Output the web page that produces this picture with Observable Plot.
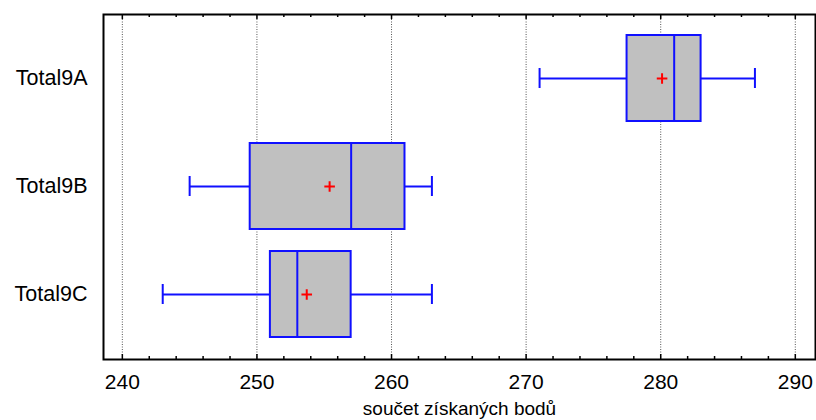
<!DOCTYPE html>
<html>
<head>
<meta charset="utf-8">
<script src="https://cdn.jsdelivr.net/npm/d3@7"></script>
<script src="https://cdn.jsdelivr.net/npm/@observablehq/plot@0.6"></script>
<style>
  html, body { margin: 0; padding: 0; background: white; }
</style>
</head>
<body>
<div id="chart"></div>
<script>
const names = ["Total9A", "Total9B", "Total9C"];
const mins = [271, 245, 243];
const q1s = [277.5, 249.5, 251];
const medians = [281, 257, 253];
const q3s = [283, 261, 257];
const maxs = [287, 263, 263];
const means = [280.1, 255.4, 253.7];
const majorTicks = [240, 250, 260, 270, 280, 290];
const minorTicks = [242, 244, 246, 248, 252, 254, 256, 258, 262, 264, 266, 268, 272, 274, 276, 278, 282, 284, 286, 288];
const xLabel = "součet získaných bodů";

const data = names.map((name, i) => ({
  name, lo: mins[i], q1: q1s[i], med: medians[i], q3: q3s[i], hi: maxs[i], mean: means[i]
}));

const blue = "#1010ff";
const plotH = 345;

const chart = Plot.plot({
  width: 816,
  height: 420,
  marginTop: 14,
  marginBottom: 61,
  marginLeft: 103,
  marginRight: 1,
  style: { fontFamily: "'Liberation Sans', Arial, sans-serif", background: "white", color: "black" },
  x: { domain: [238.6, 291.5] },
  y: { domain: names, paddingInner: 0.2, paddingOuter: 0.19 },
  marks: [
    Plot.ruleX(majorTicks, { stroke: "#555", strokeDasharray: "1,1.5", strokeWidth: 1 }),
    Plot.ruleY(data, { y: "name", x1: "lo", x2: "q1", stroke: blue, strokeWidth: 2 }),
    Plot.ruleY(data, { y: "name", x1: "q3", x2: "hi", stroke: blue, strokeWidth: 2 }),
    Plot.tickX(data, { x: "lo", y: "name", insetTop: 33, insetBottom: 33, stroke: blue, strokeWidth: 2 }),
    Plot.tickX(data, { x: "hi", y: "name", insetTop: 33, insetBottom: 33, stroke: blue, strokeWidth: 2 }),
    Plot.barX(data, { y: "name", x1: "q1", x2: "q3", fill: "#c0c0c0", stroke: blue, strokeWidth: 2 }),
    Plot.tickX(data, { x: "med", y: "name", stroke: blue, strokeWidth: 2 }),
    Plot.dot(data, { x: "mean", y: "name", symbol: "plus", r: 3.5, stroke: "red", strokeWidth: 2 }),
    Plot.ruleX(majorTicks, { insetTop: plotH - 5, stroke: "black", strokeWidth: 1.5 }),
    Plot.ruleX(minorTicks, { insetTop: plotH - 3, stroke: "black", strokeWidth: 1.5 }),
    Plot.ruleX(majorTicks, { insetBottom: plotH - 5, stroke: "black", strokeWidth: 1.5 }),
    Plot.ruleX(minorTicks, { insetBottom: plotH - 3, stroke: "black", strokeWidth: 1.5 }),
    Plot.axisX({ ticks: majorTicks, tickSize: 0, tickPadding: 15, fontSize: 21, label: null }),
    Plot.axisY({ tickSize: 0, tickPadding: 16, fontSize: 21.5, label: null }),
    Plot.text([xLabel], { frameAnchor: "bottom", text: d => d, dy: 49, fontSize: 19, lineAnchor: "middle", fill: "black" }),
    Plot.frame({ stroke: "black", strokeWidth: 2 })
  ]
});
document.getElementById("chart").appendChild(chart);
</script>
</body>
</html>
